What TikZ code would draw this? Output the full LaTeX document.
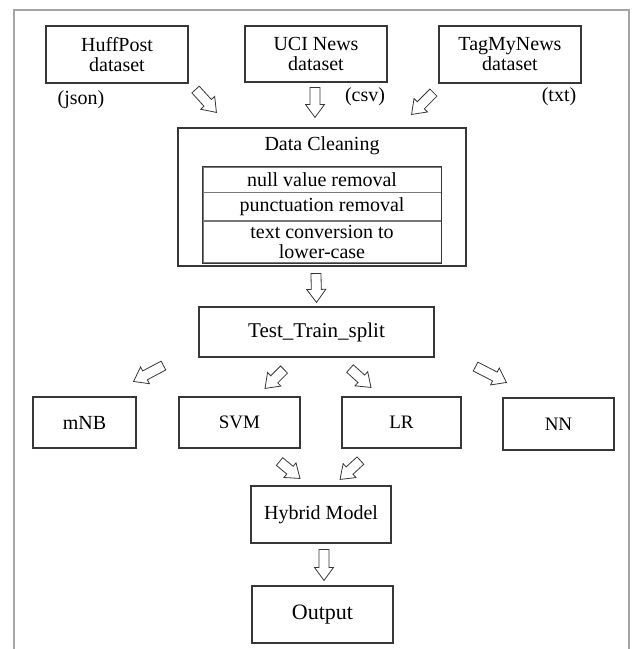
\documentclass[tikz,border=0pt]{standalone}
\usepackage{fontspec}
\setmainfont{Liberation Serif}
\usetikzlibrary{positioning, calc}
\definecolor{boxline}{RGB}{55,55,55}
\definecolor{frameline}{RGB}{165,165,165}
\definecolor{rowline}{RGB}{120,120,120}
\tikzset{
  box/.style={rectangle, draw=boxline, line width=1.1pt, align=center,
    inner sep=0pt, font=\fontsize{20}{20}\selectfont},
  rowbox/.style={rectangle, draw=rowline, line width=0.8pt, align=center,
    inner sep=0pt, minimum width=238, font=\fontsize{20}{20}\selectfont},
  fmt/.style={inner sep=0pt, font=\fontsize{20}{20}\selectfont},
  blockarrow/.style={draw=boxline, fill=white, line width=0.8pt,
    to path={let \p1=(\tikztostart), \p2=(\tikztotarget),
      \n1={atan2(\y2-\y1,\x2-\x1)}, \n2={veclen(\x2-\x1,\y2-\y1)} in
      {[shift={(\p1)}, rotate=\n1]
        (0pt,5pt) -- ({\n2*1pt-13pt},5pt) -- ({\n2*1pt-13pt},9.5pt)
        -- ({\n2*1pt},0pt) -- ({\n2*1pt-13pt},-9.5pt)
        -- ({\n2*1pt-13pt},-5pt) -- (0pt,-5pt) -- cycle}}}
}
\begin{document}
\begin{tikzpicture}[x=1pt, y=-1pt]
  \useasboundingbox (0,0) rectangle (633,649);
  % outer frame
  \draw[frameline, line width=1.2pt] (14,10) rectangle (629,670);

  % datasets
  \node[box, minimum width=142, minimum height=57] (huff) at (117,54.5) {HuffPost\\dataset};
  \node[box, minimum width=142, minimum height=56] (uci) at (316,54) {UCI News\\dataset};
  \node[box, minimum width=142, minimum height=57] (tag) at (510,54.5) {TagMyNews\\dataset};
  \node[fmt] (json) at (81,100) {(json)};
  \node[fmt] (csv) at (365,97) {(csv)};
  \node[fmt] (txt) at (559,97) {(txt)};

  % data cleaning
  \node[box, minimum width=288, minimum height=138] (clean) at (322,197) {};
  \node[fmt] (cleantitle) at (322,146) {Data Cleaning};
  \node[rowbox, minimum height=25] (nullrow) at (322,179.5) {null value removal};
  \node[rowbox, minimum height=28, below=0pt of nullrow] (punctrow) {punctuation removal};
  \node[rowbox, minimum height=41, below=0pt of punctrow] (lowerrow) {text conversion to\\lower-case};
  \draw[boxline, line width=1pt] (nullrow.north west) rectangle (lowerrow.south east);

  % split
  \node[box, minimum width=235, minimum height=50, font=\fontsize{21}{22}\selectfont] (split) at (316.5,332) {Test\_Train\_split};

  % models
  \node[box, minimum width=103, minimum height=51] (mnb) at (84.5,422.5) {mNB};
  \node[box, minimum width=121, minimum height=51, font=\fontsize{19}{20}\selectfont] (svm) at (239.5,422.5) {SVM};
  \node[box, minimum width=119, minimum height=51, font=\fontsize{19}{20}\selectfont] (lr) at (401.5,422.5) {LR};
  \node[box, minimum width=111, minimum height=52, font=\fontsize{19}{20}\selectfont] (nn) at (558.5,424) {NN};

  \node[box, minimum width=140, minimum height=57] (hybrid) at (321,514.5) {Hybrid Model};
  \node[box, minimum width=141, minimum height=57, font=\fontsize{22}{22}\selectfont] (output) at (322.5,614.5) {Output};

  % block arrows
  \draw[blockarrow] ([shift={(7,6)}]huff.south east) to ([shift={(39,-15)}]clean.north west);
  \draw[blockarrow] ([shift={(-1,5)}]uci.south) to ([shift={(-7,-10)}]clean.north);
  \draw[blockarrow] ([shift={(-5,9)}]tag.south west) to ([shift={(-55,-13)}]clean.north east);
  \draw[blockarrow] ([shift={(-6,7)}]clean.south) to ([shift={(0,-4)}]split.north);
  \draw[blockarrow] ([shift={(-35,8)}]split.south west) to ([shift={(-3,-15)}]mnb.north east);
  \draw[blockarrow] ([shift={(-32.5,12)}]split.south) to ([shift={(25.5,-8)}]svm.north);
  \draw[blockarrow] ([shift={(33.5,11)}]split.south) to ([shift={(-30.5,-9)}]lr.north);
  \draw[blockarrow] ([shift={(41,9)}]split.south east) to ([shift={(4,-15)}]nn.north west);
  \draw[blockarrow] ([shift={(-21,13)}]svm.south east) to ([shift={(-21,-7)}]hybrid.north);
  \draw[blockarrow] ([shift={(19,12)}]lr.south west) to ([shift={(19,-6)}]hybrid.north);
  \draw[blockarrow] ([shift={(3,6)}]hybrid.south) to ([shift={(1.5,-5)}]output.north);
\end{tikzpicture}
\end{document}
